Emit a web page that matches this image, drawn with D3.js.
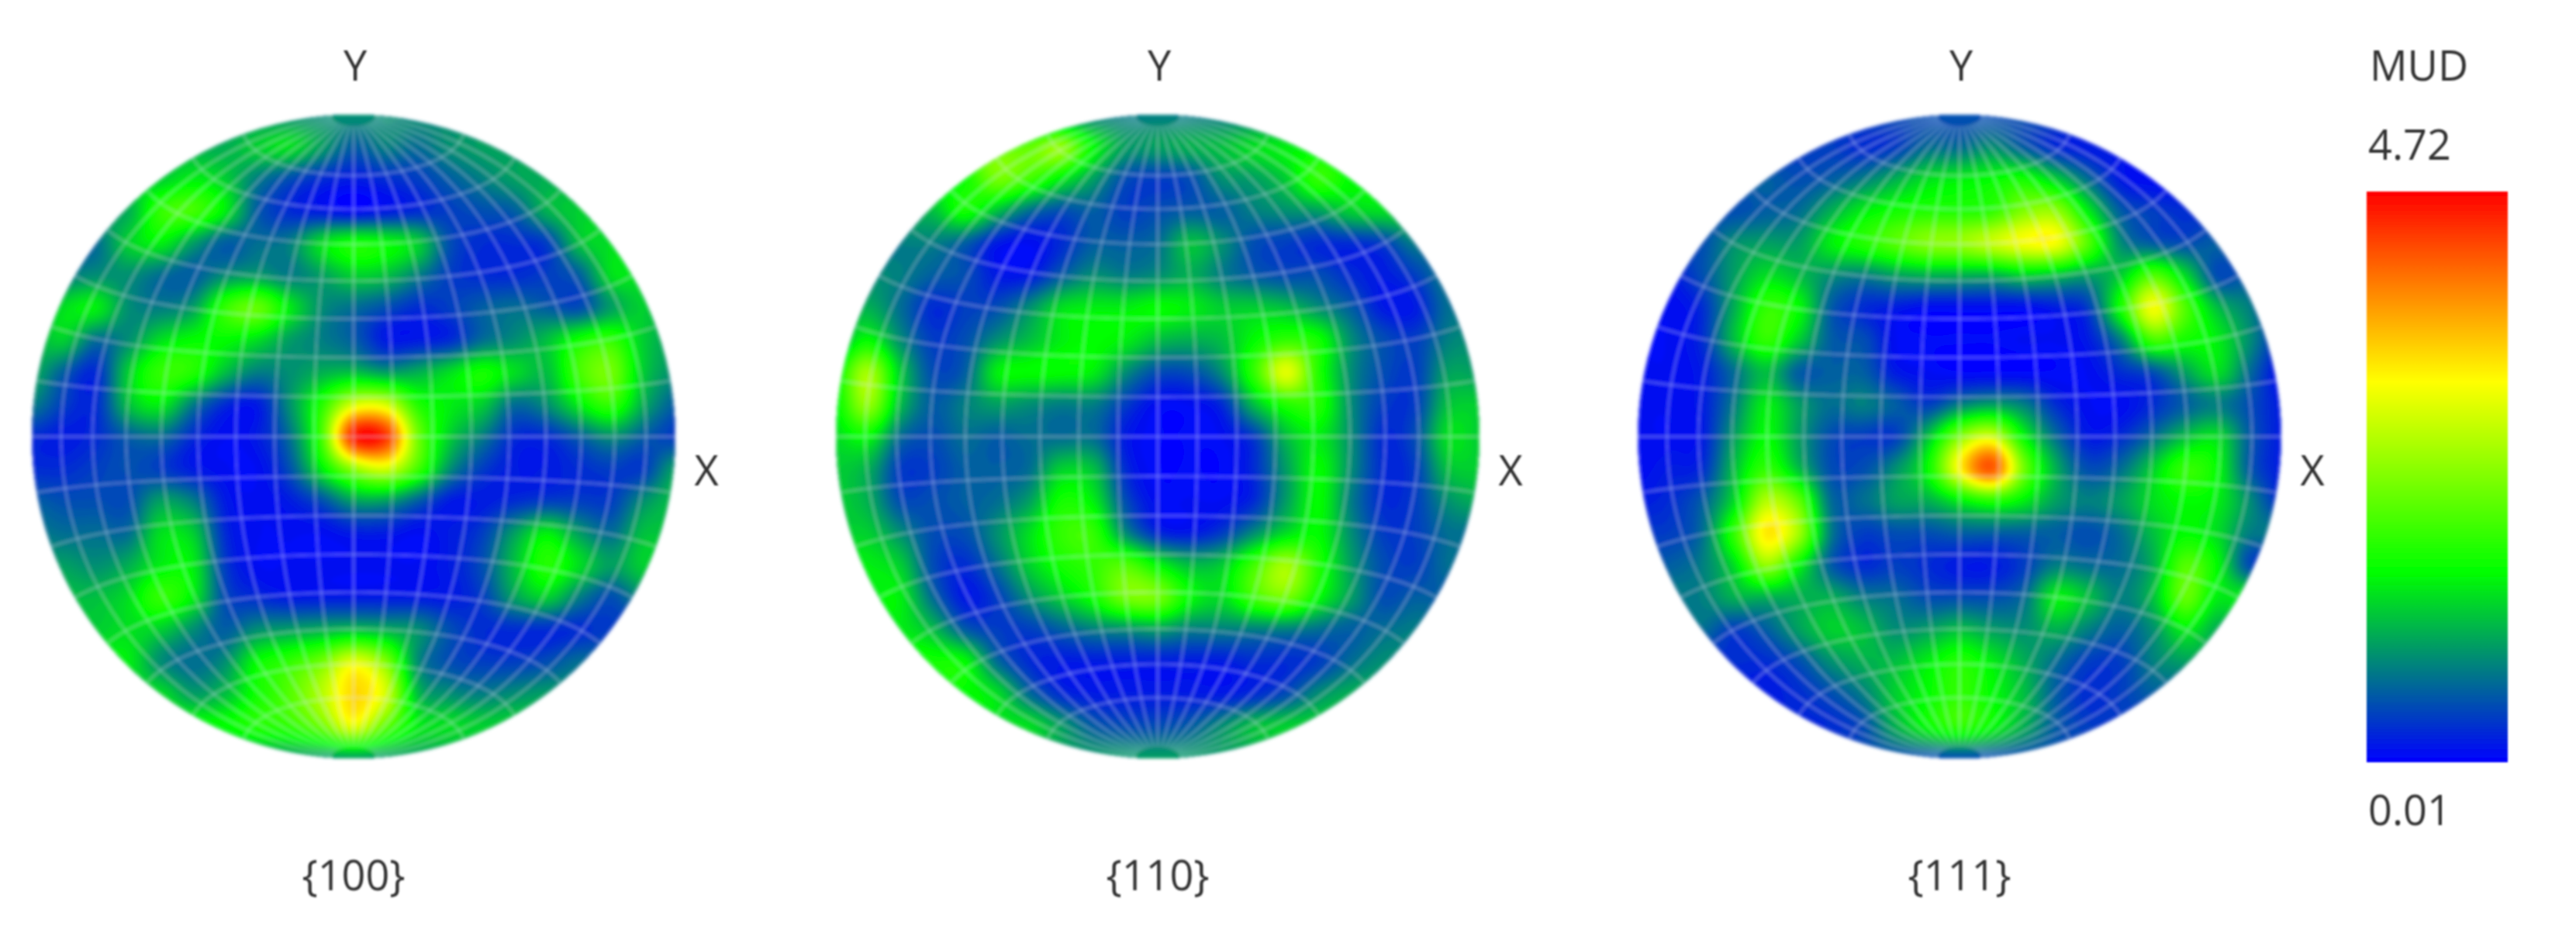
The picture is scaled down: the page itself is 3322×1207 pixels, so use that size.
<!DOCTYPE html>
<html><head><meta charset="utf-8">
<script src="https://cdn.jsdelivr.net/npm/d3@7"></script>
<style>html,body{margin:0;background:#fff;overflow:hidden}svg{display:block}text{font-family:"Open Sans",sans-serif;font-size:54px;fill:#333}</style>
</head><body><svg id="c" width="3322" height="1207"></svg>
<script>
const planes = ["{100}", "{110}", "{111}"];
const legendTitle = "MUD", legendMax = 4.72, legendMin = 0.01;
// MUD intensity read on a regular grid across each disk (row = top to bottom; only cells inside the disk)
const pf100 = [
[.9],
[1.1,1.3,1.4,1.0,.6,.8,.7,.9,1.0],
[1.3,1.5,1.3,.8,.5,.3,.2,.3,.4,.6,.8,1.0,1.1],
[1.1,1.9,2.0,1.5,.6,.3,.2,.1,.2,.3,.4,.5,.6,1.1,1.3],
[.7,1.3,1.5,1.0,.6,.7,.8,1.4,1.7,1.6,1.3,.5,.3,.3,.4,1.2,1.4],
[.8,.9,.9,.7,.6,.9,1.0,.8,1.0,1.3,1.2,.8,.4,.3,.3,.4,.6,1.4,1.4],
[1,1.4,1.5,.9,.8,1.0,1.9,2.2,1.5,.9,.7,.5,.3,.4,.6,.7,.6,.5,1.0,1.3,1],
[1.1,1.3,.7,.9,1.4,1.6,1.6,1.4,1.0,.8,.6,.2,.2,.3,.7,.9,1.2,1.7,1.9,1.3,1],
[1.1,.6,.3,1.3,1.9,1.8,1.2,.8,.9,1.1,1.2,1.0,1.1,1.4,1.7,1.4,1.2,2.0,2.3,1.3,.9],
[.8,.4,.3,1.2,1.5,.8,.3,.2,.9,1.8,2.9,2.9,1.8,1.5,1.3,.7,.9,1.5,1.9,1.1,.6],
[.3,.2,.3,.6,.7,.3,.1,.2,.7,2.0,4.5,4.4,2.3,1.3,.8,.3,.3,.6,.9,.6,.4],
[.3,.3,.4,.5,.4,.2,.1,.1,.5,1.5,2.5,2.9,2.0,.9,.4,.2,.2,.3,.4,.4,1.0],
[.6,.5,.5,.5,1.0,.8,.2,.1,.2,.5,1.0,1.0,.6,.2,.2,.3,.4,.4,.4,.9,1.2],
[.8,.7,.7,.7,1.4,1.3,.3,.1,.1,.1,.2,.2,.1,.2,.4,1.0,1.5,1.0,.7,1.2,1.2],
[1.0,.9,1.1,1.5,1.5,.4,.1,.1,.1,.1,.1,.1,.2,.5,1.2,1.8,1.4,1.0,1.3],
[1.2,1.2,1.4,1.9,1.5,.5,.3,.2,.2,.2,.2,.2,.2,.4,1.0,1.3,.8,.5,.9],
[1.3,1.4,1.3,.9,.6,.9,1.0,1.1,1.2,1.1,.9,.5,.3,.3,.3,.3,.4],
[1.5,.9,.7,.9,1.6,1.9,2.3,3.0,2.4,.9,.5,.4,.4,.5,.7],
[1.4,1.0,1.2,1.7,2.1,2.7,3.4,2.9,1.2,.9,.8,.9,1.0],
[1.6,1.8,1.9,2.3,3.0,2.2,1.5,1.4,1.3],
[1.0]
];
const pf110 = [
[.8],
[2.2,2.5,1.6,1.0,1.0,1.1,1.2,1.4,1.5],
[1.7,2.3,2.0,1.5,1.0,.5,.4,.5,.9,1.0,1.3,1.9,1.6],
[1.2,1.7,1.2,.7,.5,.6,.4,.5,.6,.6,.8,.9,1.0,1.3,1.4],
[.8,.8,.6,.2,.1,.3,.6,.6,.7,1.2,.9,.5,.4,.3,.3,.4,.8],
[.9,.8,.6,.5,.2,.2,.6,.9,.8,.9,1.1,.8,.6,.5,.5,.3,.2,.4,.8],
[1.0,1.1,.7,.3,.4,.5,.9,1.4,1.5,1.5,1.6,1.5,1.3,1.3,1.2,.9,.6,.2,.2,.7,.8],
[1.1,1.6,.9,.4,.5,.9,1.2,1.5,1.6,1.5,1.2,1.1,1.2,1.6,1.9,1.7,.9,.5,.4,.8,.9],
[1.6,2.6,1.3,.5,.6,1.5,1.6,1.6,1.5,.9,.5,.5,.9,1.9,3.0,1.8,.9,.5,.4,1.0,1.0],
[1.6,2.5,1.2,.6,.8,1.0,.9,.8,.8,.4,.1,.1,.3,1.2,1.8,1.8,.9,.4,.4,1.2,1.3],
[1.4,1.6,.7,.5,.7,.6,.7,.7,.7,.2,.05,.05,.1,.4,1.2,1.5,.9,.3,.5,1.4,1.3],
[1.3,1.1,.4,.4,.6,.6,.7,1.3,1.2,.3,.05,.05,.05,.3,1.0,1.6,.9,.3,.4,1.2,1.3],
[1.3,1.1,.5,.5,.6,.7,1.0,1.7,1.5,.5,.1,.1,.1,.3,1.0,1.6,.8,.3,.4,.9,1.1],
[1.3,.9,.5,.5,.9,1.4,1.9,1.9,.9,.3,.2,.4,.9,1.4,1.6,.9,.4,.4,.7],
[1.5,1.3,.5,.3,.7,1.3,1.7,1.9,2.1,1.6,1.2,1.3,2.0,2.6,1.8,1.0,.5,.4,.7],
[1.5,.7,.2,.4,.9,1.3,1.7,2.3,2.3,1.6,1.4,2.0,2.3,1.6,1.0,.5,.6],
[1.5,1.2,.6,.4,.4,.6,.8,.9,1.0,.8,.8,.8,.8,.7,.6,.7,.8],
[1.7,1.6,.7,.3,.2,.2,.2,.2,.2,.2,.3,.3,.4,.7,.9],
[1.6,1.4,.7,.3,.2,.2,.2,.2,.2,.3,.5,.9,1.1],
[1.4,1.0,.6,.5,.5,.6,.9,1.2,1.3],
[1.0]
];
const pf111 = [
[.5],
[.4,.3,.4,.7,.7,.9,.6,.3,.2],
[.6,.5,.6,.8,1.1,1.4,1.5,1.6,1.7,1.3,.7,.2,.1],
[.5,.6,.7,1.1,1.5,1.7,1.8,1.8,1.9,2.4,2.5,1.5,.6,.4,.3],
[.5,.9,1.0,1.0,1.5,1.8,2.1,2.4,2.5,2.8,3.1,3.1,2.1,.9,.6,.5,.6],
[.2,.5,1.0,1.4,1.2,.9,.8,1.0,1.1,1.1,1.1,1.3,1.2,1.0,1.3,2.1,1.4,.5,.6],
[.2,.1,.3,1.1,1.9,1.6,.6,.3,.2,.1,.1,.1,.1,.2,.4,1.7,3.1,2.1,1.2,.8,.4],
[.1,.1,.3,1.2,1.9,1.3,.6,.5,.1,.05,.05,.05,.1,.1,.2,.8,2.0,1.7,1.5,.9,.3],
[.1,.1,.2,.7,1.2,.6,.6,.6,.2,.1,.05,.05,.05,.05,.1,.3,.5,1.0,1.4,.7,.1],
[.1,.1,.2,.8,1.5,1.0,.7,.8,.6,.4,.8,1.0,.8,.3,.1,.1,.3,.6,.8,.5,.2],
[.1,.1,.2,1.0,1.6,1.0,.5,.4,.4,1.2,2.4,2.9,1.6,.7,.2,.3,.7,1.2,1.4,.6,.2],
[.1,.2,.3,1.2,1.9,1.2,.5,.5,.9,1.6,3.2,4.2,2.3,1.1,.5,.7,1.3,1.9,1.6,.6,.2],
[.2,.3,.6,1.4,2.7,2.2,.7,.7,1.0,1.1,1.5,1.8,1.5,1.0,.8,1.0,1.4,1.6,1.5,.9,.3],
[.4,.7,1.9,3.3,2.6,.8,.4,.5,.5,.6,.6,.6,.6,.5,.7,1.2,1.6,1.4,.8],
[.6,.8,1.4,2.5,1.6,.6,.3,.4,.3,.2,.2,.4,.8,.7,.7,1.1,2.1,1.6,.5],
[.8,1.1,1.1,1.1,1.1,.8,.7,.5,.5,.5,.7,1.5,1.2,.8,1.2,2.2,1.5],
[.7,.4,.6,1.0,1.3,1.2,.9,1.0,1.2,1.0,.9,1.1,.8,.6,.9,1.5,1.1],
[.3,.3,.5,.9,1.1,1.2,1.5,1.8,1.5,1.1,.7,.4,.4,.8,1.0],
[.2,.3,.5,.8,1.3,1.6,1.9,1.6,1.2,.6,.3,.4,.6],
[.3,.5,1.1,1.6,1.9,1.6,1.1,.6,.4],
[.5]
];
const fields = [pf100, pf110, pf111];
const rampStops = [0, 1/6, 1/3, 2/3, 5/6, 1];
const rampColors = ["#0000ff", "#008080", "#00ff00", "#ffff00", "#ff8000", "#ff0000"];

const W = 21, UP = 10, N = (W - 1) * UP + 1;
const color = d3.scaleLinear().domain(rampStops.map(f => f * legendMax)).range(rampColors).clamp(true);
const centers = { "{100}": 456, "{110}": 1493, "{111}": 2527 };
const R = 415, CY = 563;
const svg = d3.select("#c");
const defs = svg.append("defs");
defs.append("filter").attr("id", "soft").attr("x", "-5%").attr("y", "-5%").attr("width", "110%").attr("height", "110%")
  .append("feGaussianBlur").attr("stdDeviation", 2);
defs.append("filter").attr("id", "softT").attr("x", "-20%").attr("y", "-20%").attr("width", "140%").attr("height", "140%")
  .append("feGaussianBlur").attr("stdDeviation", 1.1);

function padded(rows) {
  return rows.map(r => {
    const o = Math.floor((W - r.length) / 2);
    return d3.range(W).map(i => r[Math.max(0, Math.min(r.length - 1, i - o))]);
  });
}
const cr = (a, b, c, d, t) => 0.5 * (2 * b + (c - a) * t + (2 * a - 5 * b + 4 * c - d) * t * t + (3 * b - a - 3 * c + d) * t * t * t);
function upsample(g) {
  const at = (i, j) => g[Math.max(0, Math.min(W - 1, j))][Math.max(0, Math.min(W - 1, i))];
  const out = new Float64Array(N * N);
  for (let y = 0; y < N; y++) {
    const j = Math.min(W - 2, Math.floor(y / UP)), tj = y / UP - j;
    for (let x = 0; x < N; x++) {
      const i = Math.min(W - 2, Math.floor(x / UP)), ti = x / UP - i;
      const col = [-1, 0, 1, 2].map(d => cr(at(i - 1, j + d), at(i, j + d), at(i + 1, j + d), at(i + 2, j + d), ti));
      out[y * N + x] = cr(col[0], col[1], col[2], col[3], tj);
    }
  }
  return out;
}
const levels = d3.range(0.04, legendMax, 0.05);

planes.forEach((name, k) => {
  const cx = centers[name];
  const id = "clip" + k;
  defs.append("clipPath").attr("id", id).append("circle").attr("cx", cx).attr("cy", CY).attr("r", R);
  const sx = d3.scaleLinear().domain([0.5, N - 0.5]).range([cx - R, cx + R]);
  const sy = d3.scaleLinear().domain([0.5, N - 0.5]).range([CY - R, CY + R]);
  const path = d3.geoPath(d3.geoTransform({ point(x, y) { this.stream.point(sx(x), sy(y)); } }));
  const values = upsample(padded(fields[k]));
  const contours = d3.contours().size([N, N]).thresholds(levels)(values);
  const outer = svg.append("g").attr("filter", "url(#soft)");
  const g = outer.append("g").attr("clip-path", `url(#${id})`);
  g.append("circle").attr("cx", cx).attr("cy", CY).attr("r", R).attr("fill", color(0));
  g.selectAll("path.lvl").data(contours).join("path").attr("class", "lvl")
    .attr("d", path).attr("fill", d => color(d.value));
  // Equal-area (Schmidt) net, 10 degree spacing, no parallel next to the poles
  const proj = d3.geoAzimuthalEqualArea().scale(R / Math.SQRT2).translate([cx, CY]).precision(0.2);
  const net = d3.geoGraticule().extent([[-90, -86], [90.001, 86.001]]).step([10, 10]);
  const lines = net.lines().filter(l => {
    const c = l.coordinates, isParallel = c[0][1] === c[c.length - 1][1];
    return !(isParallel && Math.abs(c[0][1]) > 75);
  });
  g.selectAll("path.net").data(lines).join("path").attr("class", "net")
    .attr("d", d3.geoPath(proj)).attr("fill", "none")
    .attr("stroke", "#dfe4ff").attr("stroke-opacity", 0.38).attr("stroke-width", 2.1);
  const t = svg.append("g").attr("filter", "url(#softT)");
  t.append("text").attr("x", cx + 2).attr("y", 104).attr("text-anchor", "middle").text("Y");
  t.append("text").attr("x", cx + 455).attr("y", 626).attr("text-anchor", "middle").text("X");
  t.append("text").attr("x", cx).attr("y", 1148).attr("text-anchor", "middle").text(name);
});

// Colour bar
const grad = defs.append("linearGradient").attr("id", "bar").attr("x1", 0).attr("x2", 0).attr("y1", 1).attr("y2", 0);
grad.selectAll("stop").data(rampStops).join("stop")
  .attr("offset", d => d).attr("stop-color", d => color(d * legendMax));
svg.append("rect").attr("x", 3052).attr("y", 247).attr("width", 182).attr("height", 736)
  .attr("fill", "url(#bar)").attr("filter", "url(#softT)");
const lg = svg.append("g").attr("filter", "url(#softT)");
lg.append("text").attr("x", 3056).attr("y", 104).text(legendTitle);
lg.append("text").attr("x", 3054).attr("y", 206).text(legendMax.toFixed(2));
lg.append("text").attr("x", 3054).attr("y", 1064).text(legendMin.toFixed(2));
</script></body></html>
